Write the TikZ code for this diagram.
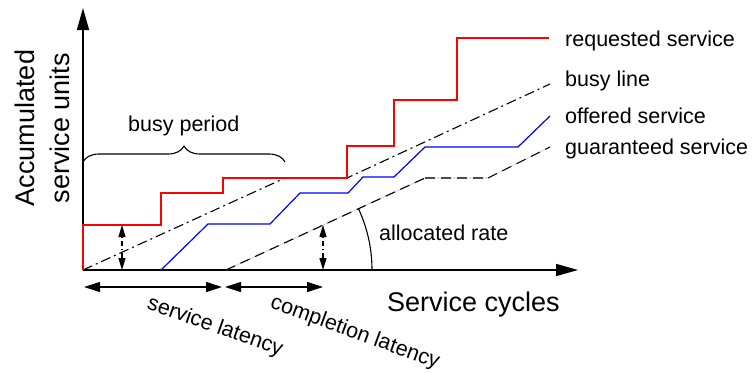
\documentclass[tikz,border=0pt]{standalone}
\usepackage{fontspec}
\setmainfont{Liberation Sans}
\usetikzlibrary{arrows.meta,decorations.pathreplacing}
\tikzset{
  axisline/.style={line width=1.5pt,-{Triangle[length=22pt,width=12pt]}},
  reqline/.style={line width=1.2pt,red},
  offline/.style={line width=1.2pt,blue},
  busyline/.style={line width=1.1pt,dash pattern=on 10pt off 4pt on 2pt off 4pt},
  guarline/.style={line width=1.1pt,dash pattern=on 10pt off 6pt},
  guarunder/.style={line width=1.1pt,black!15},
  dimarrow/.style={line width=1.1pt,{Triangle[length=16pt,width=10pt]}-{Triangle[length=16pt,width=10pt]}},
  gaparrow/.style={line width=1.1pt,dash pattern=on 5pt off 3pt on 1.5pt off 3pt,{Triangle[length=12pt,width=7pt]}-{Triangle[length=12pt,width=7pt]}},
  lbl/.style={font=\fontsize{21.5}{26}\selectfont,inner sep=0pt},
  biglbl/.style={font=\fontsize{27}{35}\selectfont,inner sep=0pt}
}
\begin{document}
\begin{tikzpicture}[x=1pt,y=-1pt]
\useasboundingbox (0,0) rectangle (752,372);
% key coordinates
\coordinate (O) at (83,270);
\coordinate (Ytop) at (83,8);
\coordinate (Xend) at (578,270);
\coordinate (G0) at (226,270);
% axes
\draw[axisline] (O) -- (Ytop);
\draw[axisline] (O) -- (Xend);
% busy line
\draw[busyline] (O) -- (285,178) -- (347,178) -- (550,84);
% guaranteed service
\draw[guarunder] (G0) -- (425,178) -- (488,178) -- (550,147);
\draw[guarline] (G0) -- (425,178);
\draw[guarline,black!70] (425,178) -- (488,178);
\draw[guarline] (488,178) -- (550,147);
% offered service
\draw[offline] (161,270) -- (208,224) -- (270,224) -- (300,193) -- (348,193) -- (363,177) -- (394,177) -- (425,147) -- (518,147) -- (550,116);
% requested service
\draw[reqline] (O) -- (83,225) -- (161,225) -- (161,193) -- (223,193) -- (223,178) -- (347,178) -- (347,146) -- (394,146) -- (394,100) -- (457,100) -- (457,38) -- (549,38);
% allocated rate arc
\draw[line width=1.1pt] (372,270) arc[start angle=0,end angle=-24.8,radius=146];
% gap arrows
\coordinate (A1b) at (122,270); \coordinate (A1t) at (122,225);
\coordinate (A2b) at (323,270); \coordinate (A2t) at (323,225);
\draw[gaparrow] (A1b) -- (A1t);
\draw[gaparrow] (A2b) -- (A2t);
% latency arrows
\coordinate (L0) at (84,287); \coordinate (L1) at (222,287);
\coordinate (L2) at (225,287); \coordinate (L3) at (323,287);
\draw[dimarrow] (L0) -- (L1);
\draw[dimarrow] (L2) -- (L3);
% brace
\coordinate (B0) at (83,162); \coordinate (B1) at (285,162);
\draw[line width=1.1pt,decorate,decoration={brace,amplitude=16pt}] (B0) -- (B1);
% labels
\node[lbl,anchor=base west] (tbusy) at (128,131) {busy period};
\node[lbl,anchor=base west] (treq) at (565,46) {requested service};
\node[lbl,anchor=base west] (tbl) at (565,86) {busy line};
\node[lbl,anchor=base west] (toff) at (565,123.5) {offered service};
\node[lbl,anchor=base west] (tgua) at (565,154) {guaranteed service};
\node[lbl,anchor=base west] (trate) at (379,240.5) {allocated rate};
\node[lbl,rotate=-19.5] (tsl) at (215,327) {service latency};
\node[lbl,rotate=-20] (tcl) at (355,333) {completion latency};
\node[biglbl,anchor=base west] (tx) at (387,311) {Service cycles};
\node[biglbl,rotate=90,align=center] (ty) at (42,128) {Accumulated\\service units};
\end{tikzpicture}
\end{document}
